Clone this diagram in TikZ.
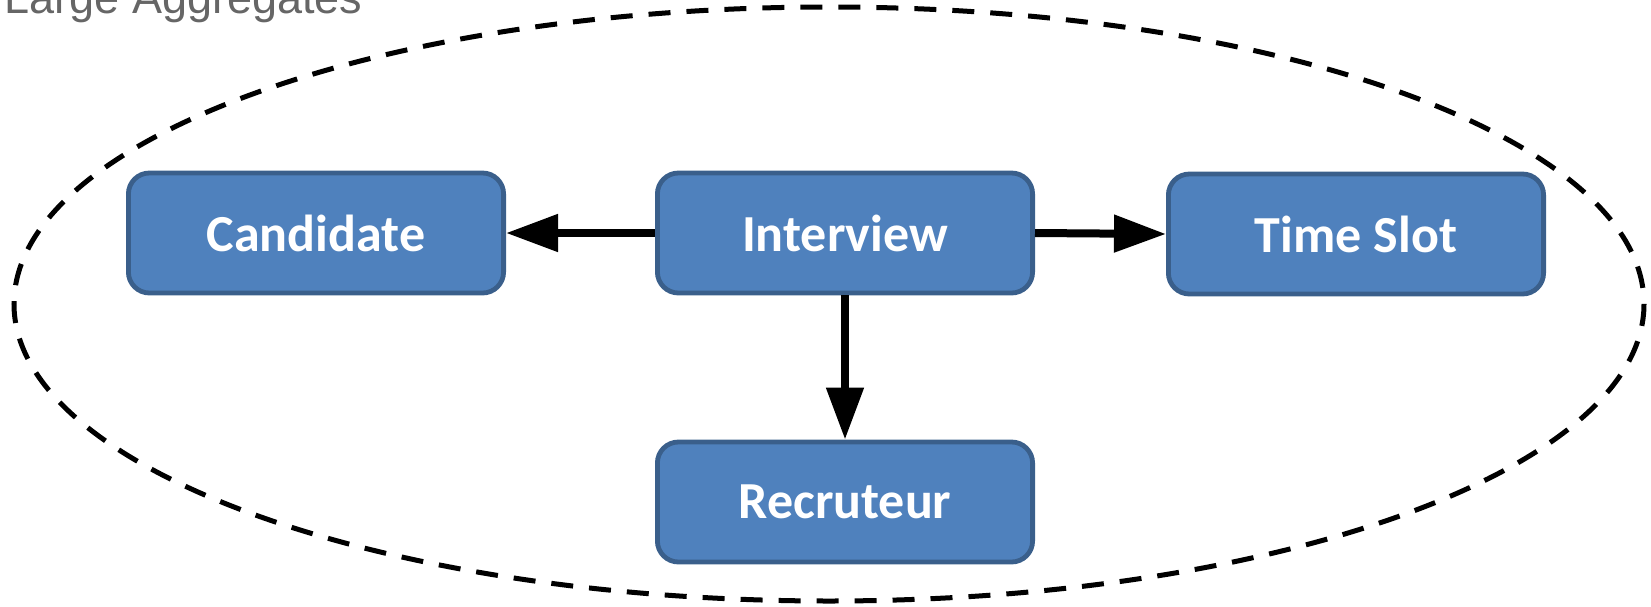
\documentclass[tikz,border=0pt]{standalone}
\usepackage{fontspec}
\setmainfont{Liberation Sans}
\newfontfamily\calfont{Carlito}
\usetikzlibrary{arrows.meta}
\definecolor{boxfill}{HTML}{4F81BD}
\definecolor{boxline}{HTML}{3A5F8B}
\definecolor{captiongray}{HTML}{666666}
\tikzset{
  entity/.style={draw=boxline, fill=boxfill, line width=2.4pt, rounded corners=10.5pt,
    minimum width=187.6pt, minimum height=60pt, inner sep=0pt, text=white,
    font=\calfont\bfseries\fontsize{26}{31}\selectfont},
  link/.style={line width=4pt, -{Triangle[length=26pt,width=18pt]}},
  aggregate/.style={draw=black, line width=2.5pt, dash pattern=on 11pt off 8pt}
}
\begin{document}
\begin{tikzpicture}[x=0.5pt,y=-0.5pt]
  \useasboundingbox (0,0) rectangle (1651,606);
  % boundary of the aggregate
  \draw[aggregate] (829,304) ellipse [x radius=815, y radius=297];
  % caption
  \node[anchor=base east, inner sep=0pt, text=captiongray,
        font=\fontsize{22.5}{27}\selectfont] (caption) at (363,13) {Large Aggregates};
  % entities
  \node[entity] (candidate) at (316,233) {Candidate};
  \node[entity] (interview) at (845,233) {Interview};
  \node[entity] (timeslot) at (1356,234) {Time Slot};
  \node[entity] (recruteur) at (845,502) {Recruteur};
  % references from the root
  \draw[link] (interview.west) -- (candidate.east);
  \draw[link] (interview.east) -- (timeslot.west);
  \draw[link] (interview.south) -- (recruteur.north);
\end{tikzpicture}
\end{document}
